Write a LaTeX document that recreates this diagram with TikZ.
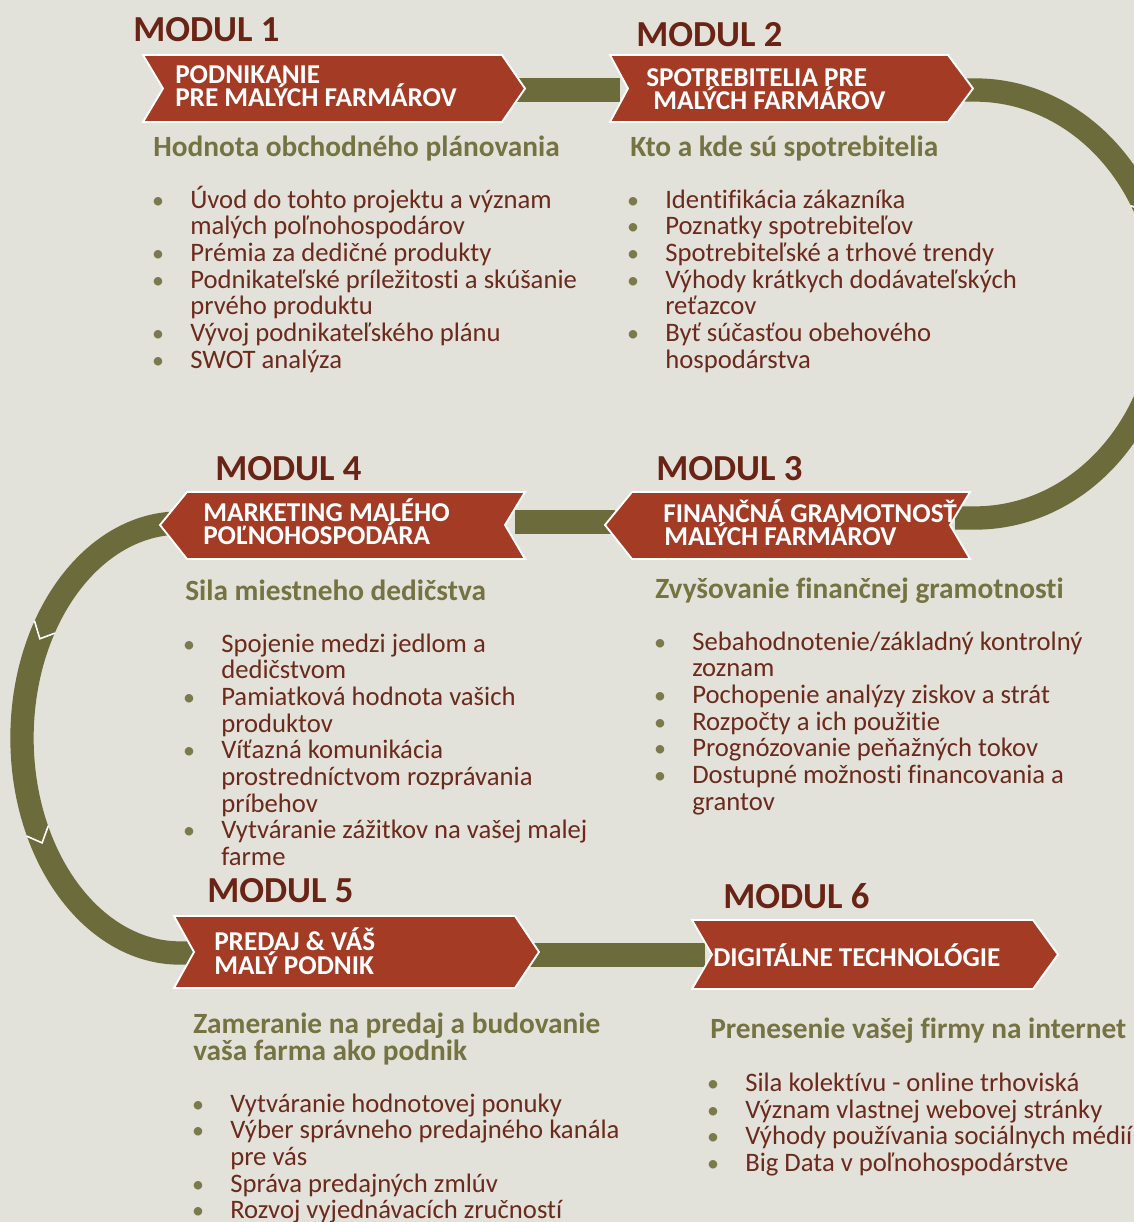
\documentclass[tikz,border=0pt]{standalone}
\usepackage{fontspec}
\setmainfont{Carlito}[Ligatures=NoCommon]
\definecolor{bgc}{HTML}{E2E1DA}
\definecolor{bred}{HTML}{A33B25}
\definecolor{olv}{HTML}{6C6B3B}
\definecolor{modc}{HTML}{6A2416}
\definecolor{subc}{HTML}{747341}
\definecolor{txtc}{HTML}{6B2A1B}
\definecolor{dotc}{HTML}{7A7A4C}
\pgfdeclarelayer{canvas}
\pgfdeclarelayer{bands}
\pgfsetlayers{canvas,bands,main}
\newcommand\myitem[5]{\node[dotn] (#1d) at (#2,#4) {•};\node[itm] (#1) at (#3,#4) {#5};}
\newcommand\mycont[4]{\node[itm] (#1) at (#2,#3) {#4};}
\begin{document}
\begin{tikzpicture}[x=0.75pt,y=-0.75pt,
  banner/.style={fill=bred,draw=white,line width=1.4pt,line join=miter},
  band/.style={draw=olv,line width=17.5pt},
  chev/.style={draw=white,line width=1.2pt},
  modul/.style={font=\bfseries\fontsize{27.5}{30}\selectfont,text=modc,anchor=base west,inner sep=0pt},
  btext/.style={font=\bfseries\fontsize{20.4}{17.3}\selectfont,text=white,anchor=base west,inner sep=0pt},
  sub/.style={font=\bfseries\fontsize{22}{20.3}\selectfont,text=subc,anchor=base west,inner sep=0pt},
  itm/.style={font=\fontsize{20}{20}\selectfont,text=txtc,anchor=base west,inner sep=0pt},
  dotn/.style={font=\fontsize{18}{20}\selectfont,text=dotc,anchor=base,inner sep=0pt}]
\begin{pgfonlayer}{canvas}
\fill[bgc] (0,0) rectangle (1134,1222);
\end{pgfonlayer}
\useasboundingbox (0,0) rectangle (1134,1222);

% banners
\path[banner] (143,55) -- (502,55) -- (525,88.5) -- (502,122) -- (143,122) -- (163,88.5) -- cycle;
\path[banner] (610,55) -- (948,55) -- (973,88.5) -- (948,122) -- (610,122) -- (628,88.5) -- cycle;
\path[banner] (605,525) -- (632,492) -- (970,492) -- (950,525) -- (970,559) -- (632,559) -- cycle;
\path[banner] (160,525) -- (187,492) -- (525,492) -- (505,525) -- (525,559) -- (187,559) -- cycle;
\path[banner] (174,916) -- (515,916) -- (539,952) -- (515,988) -- (174,988) -- (194,952) -- cycle;
\path[banner] (692,920) -- (1033,920) -- (1058,954.5) -- (1033,989) -- (692,989) -- (712,954.5) -- cycle;

\coordinate (b1p) at (515,90);
\coordinate (b2n) at (620,90);
\coordinate (b2p) at (960,90);
\coordinate (b3n) at (955,518);
\coordinate (b3p) at (615,522);
\coordinate (b4n) at (515,522);
\coordinate (b4p) at (180,523);
\coordinate (b5n) at (205,953);
\coordinate (b5p) at (530,955);
\coordinate (b6n) at (705,955);

\begin{pgfonlayer}{bands}
\draw[band] (b1p) -- (b2n);
\draw[band] (b2p) -- (975,90) arc[start angle=-90,end angle=90,x radius=190,y radius=214] -- (b3n);
\draw[band] (b3p) -- (b4n);
\draw[band] (b4p) arc[start angle=-90,end angle=-270,x radius=158,y radius=215] -- (b5n);
\draw[band] (b5p) -- (b6n);
% chevron separators
\draw[chev] ({180+170*cos(211.1)},{738+227*sin(211.1)}) -- ({180+158*cos(207.5)},{738+215*sin(207.5)}) -- ({180+146*cos(211.1)},{738+203*sin(211.1)});
\draw[chev] ({180+170*cos(154.4)},{738+227*sin(154.4)}) -- ({180+158*cos(150.8)},{738+215*sin(150.8)}) -- ({180+146*cos(154.4)},{738+203*sin(154.4)});
\draw[chev] ({975+202*cos(-29.1)},{304+226*sin(-29.1)}) -- ({975+190*cos(-25.8)},{304+214*sin(-25.8)}) -- ({975+178*cos(-29.1)},{304+202*sin(-29.1)});
\end{pgfonlayer}

% module titles
\node[modul] (t1) at (133,41) {MODUL 1};
\node[modul] (t2) at (636,46) {MODUL 2};
\node[modul] (t4) at (215,480) {MODUL 4};
\node[modul] (t3) at (656,480) {MODUL 3};
\node[modul] (t5) at (207,902) {MODUL 5};
\node[modul] (t6) at (723,908) {MODUL 6};

% banner texts
\node[btext] (l1a) at (175,83) {PODNIKANIE};
\node[btext] (l1b) at (175,106) {PRE MALÝCH FARMÁROV};
\node[btext] (l2a) at (646,86) {SPOTREBITELIA PRE};
\node[btext] (l2b) at (653,109) {MALÝCH FARMÁROV};
\node[btext] (l4a) at (203,521) {MARKETING MALÉHO};
\node[btext] (l4b) at (203,544) {POĽNOHOSPODÁRA};
\node[btext] (l3a) at (663,522) {FINANČNÁ GRAMOTNOSŤ};
\node[btext] (l3b) at (664,545) {MALÝCH FARMÁROV};
\node[btext] (l5a) at (214,950) {PREDAJ \& VÁŠ};
\node[btext] (l5b) at (214,974) {MALÝ PODNIK};
\node[btext] (l6a) at (713,966) {DIGITÁLNE TECHNOLÓGIE};

% subheadings
\node[sub] (s1) at (153,156) {Hodnota obchodného plánovania};
\node[sub] (s2) at (630,156) {Kto a kde sú spotrebitelia};
\node[sub] (s4) at (185,600) {Sila miestneho dedičstva};
\node[sub] (s3) at (655,598) {Zvyšovanie finančnej gramotnosti};
\node[sub] (s5a) at (193,1033) {Zameranie na predaj a budovanie};
\node[sub] (s5b) at (193,1060) {vaša farma ako podnik};
\node[sub] (s6) at (710,1038) {Prenesenie vašej firmy na internet};

% module 1 list
\myitem{a1}{158}{190}{208}{Úvod do tohto projektu a význam}
\mycont{a1c}{190}{234.7}{malých poľnohospodárov}
\myitem{a2}{158}{190}{261.3}{Prémia za dedičné produkty}
\myitem{a3}{158}{190}{288}{Podnikateľské príležitosti a skúšanie}
\mycont{a3c}{190}{314.6}{prvého produktu}
\myitem{a4}{158}{190}{341.3}{Vývoj podnikateľského plánu}
\myitem{a5}{158}{190}{368}{SWOT analýza}

% module 2 list
\myitem{b1}{633}{665}{208}{Identifikácia zákazníka}
\myitem{b2}{633}{665}{234.7}{Poznatky spotrebiteľov}
\myitem{b3}{633}{665}{261.3}{Spotrebiteľské a trhové trendy}
\myitem{b4}{633}{665}{288}{Výhody krátkych dodávateľských}
\mycont{b4c}{665}{314.6}{reťazcov}
\myitem{b5}{633}{665}{341.3}{Byť súčasťou obehového}
\mycont{b5c}{665}{368}{hospodárstva}

% module 4 list
\myitem{d1}{189}{221}{652}{Spojenie medzi jedlom a}
\mycont{d1c}{221}{678.6}{dedičstvom}
\myitem{d2}{189}{221}{705.3}{Pamiatková hodnota vašich}
\mycont{d2c}{221}{732}{produktov}
\myitem{d3}{189}{221}{758.6}{Víťazná komunikácia}
\mycont{d3c}{221}{785.3}{prostredníctvom rozprávania}
\mycont{d3d}{221}{812}{príbehov}
\myitem{d4}{189}{221}{838.6}{Vytváranie zážitkov na vašej malej}
\mycont{d4c}{221}{865.3}{farme}

% module 3 list
\myitem{c1}{660}{692}{650}{Sebahodnotenie/základný kontrolný}
\mycont{c1c}{692}{676.6}{zoznam}
\myitem{c2}{660}{692}{703.3}{Pochopenie analýzy ziskov a strát}
\myitem{c3}{660}{692}{730}{Rozpočty a ich použitie}
\myitem{c4}{660}{692}{756.6}{Prognózovanie peňažných tokov}
\myitem{c5}{660}{692}{783.3}{Dostupné možnosti financovania a}
\mycont{c5c}{692}{810}{grantov}

% module 5 list
\myitem{e1}{198}{230}{1112}{Vytváranie hodnotovej ponuky}
\myitem{e2}{198}{230}{1138.6}{Výber správneho predajného kanála}
\mycont{e2c}{230}{1165.3}{pre vás}
\myitem{e3}{198}{230}{1192}{Správa predajných zmlúv}
\myitem{e4}{198}{230}{1218.6}{Rozvoj vyjednávacích zručností}

% module 6 list
\myitem{f1}{713}{745}{1091.5}{Sila kolektívu - online trhoviská}
\myitem{f2}{713}{745}{1118}{Význam vlastnej webovej stránky}
\myitem{f3}{713}{745}{1144.5}{Výhody používania sociálnych médií}
\myitem{f4}{713}{745}{1171}{Big Data v poľnohospodárstve}
\end{tikzpicture}
\end{document}
